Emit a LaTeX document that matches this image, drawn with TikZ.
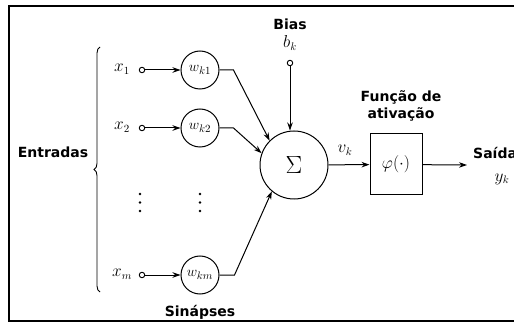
\documentclass[tikz,border=0pt]{standalone}
\usepackage{fontspec}
\newfontfamily\lblfont{DejaVu Sans}
\usetikzlibrary{arrows.meta,decorations.pathreplacing}
\begin{document}
\begin{tikzpicture}[x=1pt,y=-1pt,
  lbl/.style={font=\lblfont\bfseries\fontsize{14}{17}\selectfont, inner sep=0pt, align=center},
  mth/.style={font=\fontsize{16}{18}\selectfont, inner sep=0pt},
  wcirc/.style={circle, draw, line width=1pt, minimum size=38pt, inner sep=0pt, font=\fontsize{15.5}{18}\selectfont},
  port/.style={circle, draw, line width=0.9pt, minimum size=5.5pt, inner sep=0pt},
  dot/.style={circle, fill, minimum size=2.6pt, inner sep=0pt},
  arr/.style={-{Stealth[length=8pt,width=5.5pt]}, line width=1pt},
  ln/.style={line width=1pt}]
\useasboundingbox (0,0) rectangle (514,323);
\clip (0,0) rectangle (514,323);
% frame
\draw[line width=1.6pt] (530,6) -- (9,6) -- (9,321) -- (530,321);

% inputs
\node[mth] (x1) at (122,69) {$x_1$};
\node[mth] (x2) at (122,127) {$x_2$};
\node[mth] (xm) at (122,274) {$x_m$};
\node[port] (p1) at (142,70) {};
\node[port] (p2) at (142,128) {};
\node[port] (pm) at (142,275) {};
\node[wcirc] (w1) at (200,70) {$w_{k1}$};
\node[wcirc] (w2) at (200,128) {$w_{k2}$};
\node[wcirc] (wm) at (200,275) {$w_{km}$};
\foreach \yy [count=\i] in {194,202.5,211} {
  \node[dot] (da\i) at (140,\yy) {};
  \node[dot] (db\i) at (200,\yy) {};
}

% brace and labels
\coordinate (bt) at (100,47);
\coordinate (bb) at (100,292);
\draw[line width=0.9pt, decorate, decoration={brace, amplitude=6pt}] (bb) -- (bt);
\node[lbl] (ent) at (53,152) {Entradas};
\node[lbl] (sin) at (200,312) {Sinápses};

% summation
\node[circle, draw, line width=1pt, minimum size=68pt, inner sep=0pt, font=\fontsize{25}{27}\selectfont] (sig) at (294,165) {$\Sigma$};
\node[lbl] (bias) at (290,24) {Bias};
\node[mth] (bk) at (290,43) {$b_k$};
\node[port] (pb) at (290,63) {};

% activation
\node[draw, line width=1pt, minimum width=52pt, minimum height=61pt, inner sep=0pt, font=\fontsize{16}{18}\selectfont] (act) at (396,164.5) {$\varphi(\cdot)$};
\node[lbl] (fun) at (401,106) {Função de\\ativação};
\node[mth] (vk) at (345,150) {$v_k$};
\coordinate (out) at (467,165);
\node[lbl, anchor=west] (sai) at (473,153) {Saída};
\node[mth] (yk) at (502,179) {$y_k$};

% connectors
\draw[arr] (p1) -- (w1);
\draw[arr] (p2) -- (w2);
\draw[arr] (pm) -- (wm);
\draw[arr] (w1.east) -- ++(14,0) -- (sig.135);
\draw[arr] (w2.east) -- ++(14,0) -- (sig.160);
\draw[arr] (wm.east) -- ++(15,0) -- (sig.230);
\draw[arr] (pb) -- (pb |- sig.north);
\draw[arr] (sig) -- (act);
\draw[arr] (act) -- (out);
\end{tikzpicture}
\end{document}
